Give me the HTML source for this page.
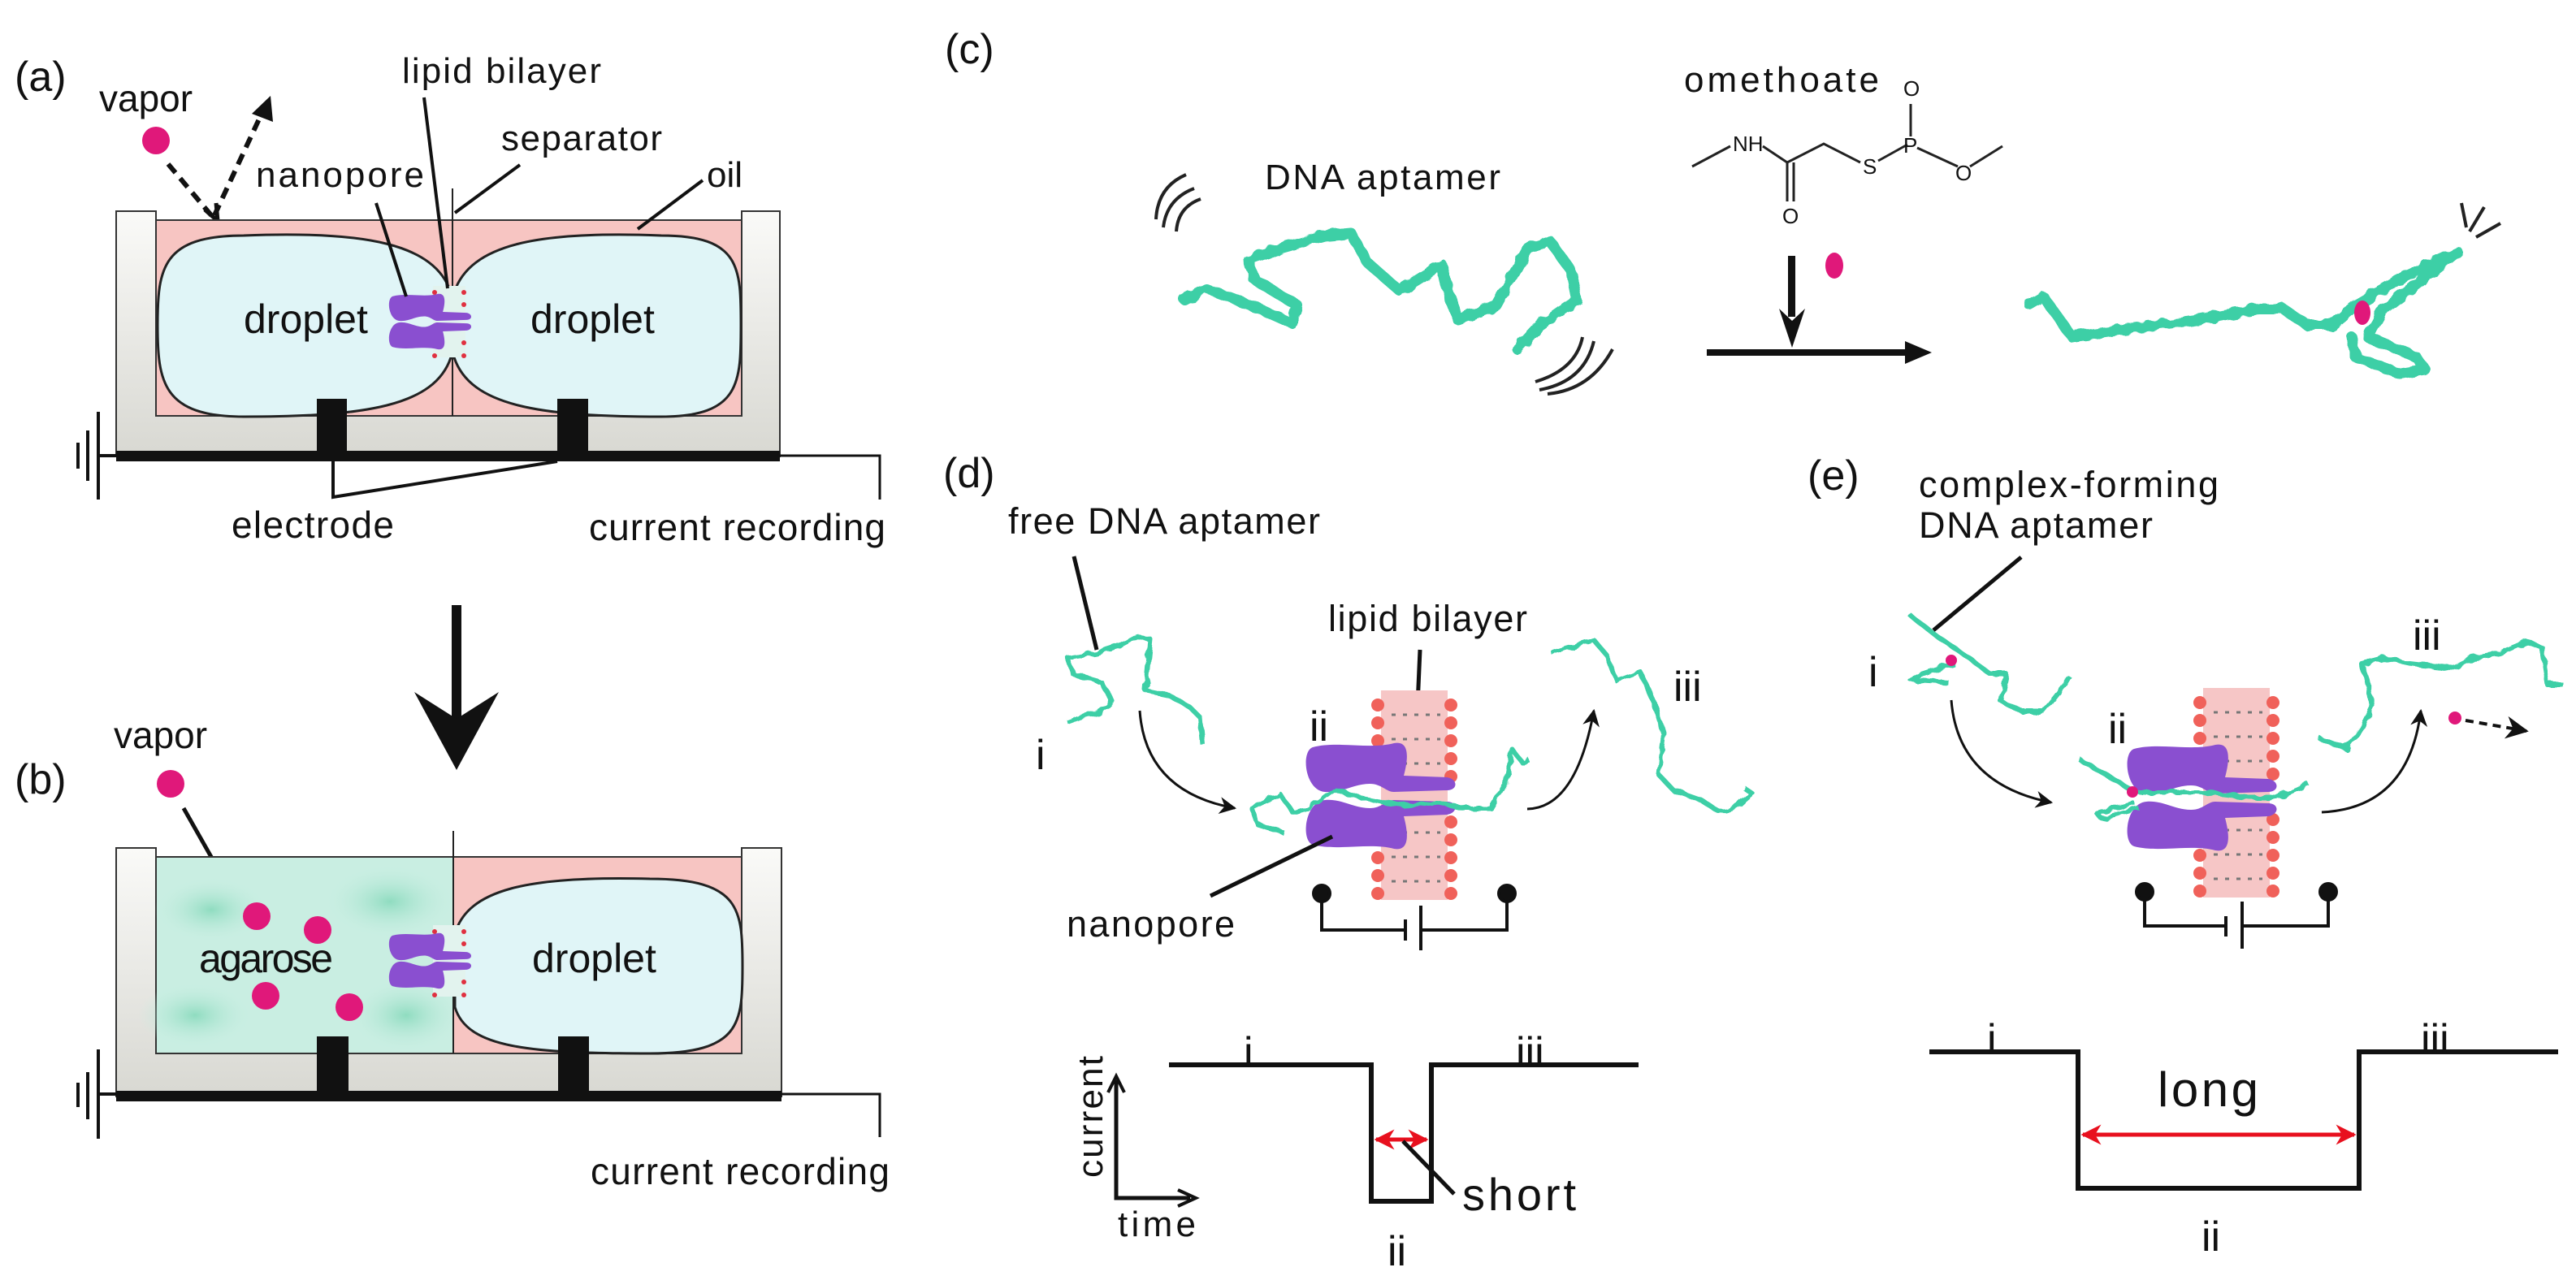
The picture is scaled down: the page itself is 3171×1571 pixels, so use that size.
<!DOCTYPE html>
<html><head><meta charset="utf-8"><style>html,body{margin:0;padding:0;background:#fff}svg{display:block}</style></head><body>
<svg width="3171" height="1571" viewBox="0 0 3171 1571" xmlns="http://www.w3.org/2000/svg" font-family="Liberation Sans, sans-serif" fill="#111">
<defs>
<filter id="wig" x="-10%" y="-10%" width="120%" height="120%">
<feTurbulence type="fractalNoise" baseFrequency="0.09" numOctaves="1" seed="3"/>
<feDisplacementMap in="SourceGraphic" scale="9"/>
</filter>
<linearGradient id="wall" x1="0" y1="0" x2="0" y2="1"><stop offset="0" stop-color="#fafaf8"/><stop offset="1" stop-color="#d8d8d2"/></linearGradient>
<radialGradient id="ag1"><stop offset="0" stop-color="#8fdcc0"/><stop offset="1" stop-color="#c8eee2" stop-opacity="0"/></radialGradient>
<marker id="ah" viewBox="0 0 10 10" refX="9" refY="5" markerWidth="7" markerHeight="7" orient="auto"><path d="M0,0 L10,5 L0,10 L3,5 Z" fill="#111"/></marker>
<marker id="rh" viewBox="0 0 10 10" refX="9" refY="5" markerWidth="5" markerHeight="5" orient="auto-start-reverse"><path d="M0,0 L10,5 L0,10 L3,5 Z" fill="#e8101e"/></marker>
<g id="poreU"><path d="M10,5 C40,-3 80,8 110,0 C132,-4 126,25 122,40 L175,42 C189,44 189,58 175,58 L110,60 C100,60 95,50 80,50 C60,50 45,62 25,60 C0,58 -5,10 10,5 Z" fill="#8a4fd0"/></g>
<g id="bil">
<rect x="12" y="0" width="82" height="258" fill="#f6c6c6"/>
<g fill="#f0615a">
<circle cx="8" cy="18" r="8"/><circle cx="8" cy="40" r="8"/><circle cx="8" cy="62" r="8"/><circle cx="8" cy="84" r="8"/><circle cx="8" cy="106" r="8"/>
<circle cx="8" cy="162" r="8"/><circle cx="8" cy="184" r="8"/><circle cx="8" cy="206" r="8"/><circle cx="8" cy="228" r="8"/><circle cx="8" cy="250" r="8"/>
<circle cx="98" cy="18" r="8"/><circle cx="98" cy="40" r="8"/><circle cx="98" cy="62" r="8"/><circle cx="98" cy="84" r="8"/><circle cx="98" cy="106" r="8"/>
<circle cx="98" cy="162" r="8"/><circle cx="98" cy="184" r="8"/><circle cx="98" cy="206" r="8"/><circle cx="98" cy="228" r="8"/><circle cx="98" cy="250" r="8"/>
</g>
<g stroke="#777" stroke-width="3" stroke-dasharray="5 9"><line x1="25" y1="30" x2="85" y2="30"/><line x1="25" y1="60" x2="85" y2="60"/><line x1="25" y1="90" x2="85" y2="90"/><line x1="25" y1="175" x2="85" y2="175"/><line x1="25" y1="205" x2="85" y2="205"/><line x1="25" y1="235" x2="85" y2="235"/></g>
</g>
<g id="smallpore">
<rect x="55" y="-8" width="40" height="88" fill="#e2f3ee"/>
<g fill="#e03040"><circle cx="57" cy="0" r="3"/><circle cx="93" cy="0" r="3"/><circle cx="57" cy="15" r="3"/><circle cx="93" cy="15" r="3"/><circle cx="57" cy="62" r="3"/><circle cx="93" cy="62" r="3"/><circle cx="57" cy="78" r="3"/><circle cx="93" cy="78" r="3"/></g>
<use href="#poreU" transform="translate(0,2) scale(0.55,0.55)"/>
<use href="#poreU" transform="translate(0,70) scale(0.55,-0.55)"/>
</g>
</defs>

<!-- ================= (a) ================= -->
<text x="18" y="112" font-size="52">(a)</text>
<text x="122" y="137" font-size="46">vapor</text>
<text x="495" y="102" font-size="44" textLength="245">lipid bilayer</text>
<text x="617" y="185" font-size="44" textLength="198">separator</text>
<text x="315" y="230" font-size="44" textLength="207">nanopore</text>
<text x="870" y="230" font-size="44">oil</text>
<circle cx="192" cy="173" r="17" fill="#e0187a"/>
<path d="M207,202 L260,265" stroke="#111" stroke-width="6" stroke-dasharray="14 9" fill="none"/>
<path d="M252,258 L268,272 L266,250" fill="none" stroke="#111" stroke-width="5"/>
<path d="M264,265 L322,140" stroke="#111" stroke-width="6" stroke-dasharray="14 9" fill="none"/>
<path d="M310,140 L333,118 L336,150 Z" fill="#111"/>
<path d="M143,260 L192,260 L192,512 L913,512 L913,260 L960,260 L960,562 L143,562 Z" fill="url(#wall)" stroke="#333" stroke-width="2"/>
<rect x="192" y="271" width="721" height="241" fill="#f7c5c2" stroke="#333" stroke-width="2"/>
<path d="M300,290 C450,284 535,300 555,360 L555,440 C535,500 450,513 300,513 C200,513 194,470 194,400 C194,330 200,290 300,290 Z" fill="#e0f5f7" stroke="#222" stroke-width="3"/>
<path d="M814,290 C664,284 579,300 559,360 L559,440 C579,500 664,513 814,513 C912,513 912,470 912,400 C912,330 912,290 814,290 Z" fill="#e0f5f7" stroke="#222" stroke-width="3"/>
<line x1="557" y1="232" x2="557" y2="512" stroke="#222" stroke-width="2"/>
<use href="#smallpore" transform="translate(478,360)"/>
<text x="300" y="410" font-size="50">droplet</text>
<text x="653" y="410" font-size="50">droplet</text>
<g stroke="#111" stroke-width="4">
<line x1="522" y1="120" x2="551" y2="355"/>
<line x1="560" y1="262" x2="640" y2="203"/>
<line x1="463" y1="250" x2="500" y2="365"/>
<line x1="785" y1="282" x2="865" y2="222"/>
</g>
<rect x="143" y="555" width="817" height="13" fill="#111"/>
<rect x="390" y="491" width="37" height="77" fill="#111"/>
<rect x="686" y="491" width="38" height="77" fill="#111"/>
<polyline points="960,561 1083,561 1083,615" fill="none" stroke="#111" stroke-width="3"/>
<g stroke="#111" stroke-width="4"><line x1="121" y1="507" x2="121" y2="615"/><line x1="121" y1="561" x2="143" y2="561"/><line x1="108" y1="530" x2="108" y2="592"/><line x1="96" y1="545" x2="96" y2="577"/></g>
<polyline points="410,568 410,612 686,568" fill="none" stroke="#111" stroke-width="4"/>
<text x="285" y="662" font-size="46" textLength="200">electrode</text>
<text x="725" y="665" font-size="46" textLength="365">current recording</text>
<rect x="556" y="745" width="12" height="140" fill="#111"/>
<path d="M510,852 L562,885 L614,852 L562,948 Z" fill="#111"/>

<!-- ================= (b) ================= -->
<text x="18" y="977" font-size="52">(b)</text>
<text x="140" y="921" font-size="46">vapor</text>
<circle cx="210" cy="965" r="17" fill="#e0187a"/>
<line x1="226" y1="995" x2="277" y2="1085" stroke="#111" stroke-width="5"/>
<path d="M262,1080 L285,1102 L286,1070 Z" fill="#111"/>
<path d="M143,1044 L192,1044 L192,1297 L913,1297 L913,1044 L962,1044 L962,1350 L143,1350 Z" fill="url(#wall)" stroke="#333" stroke-width="2"/>
<rect x="192" y="1055" width="366" height="242" fill="#c9eee2" stroke="#333" stroke-width="2"/>
<g>
<ellipse cx="260" cy="1120" rx="70" ry="40" fill="url(#ag1)"/>
<ellipse cx="480" cy="1110" rx="80" ry="45" fill="url(#ag1)"/>
<ellipse cx="240" cy="1250" rx="70" ry="40" fill="url(#ag1)"/>
<ellipse cx="500" cy="1250" rx="70" ry="45" fill="url(#ag1)"/>
</g>
<rect x="558" y="1055" width="355" height="242" fill="#f7c5c2" stroke="#333" stroke-width="2"/>
<path d="M800,1082 C650,1078 575,1095 560,1150 L560,1240 C575,1290 650,1297 800,1297 C912,1297 914,1260 914,1190 C914,1120 912,1082 800,1082 Z" fill="#e0f5f7" stroke="#222" stroke-width="3"/>
<line x1="558" y1="1023" x2="558" y2="1297" stroke="#222" stroke-width="2"/>
<use href="#smallpore" transform="translate(478,1147)"/>
<circle cx="316" cy="1128" r="17" fill="#e0187a"/><circle cx="391" cy="1145" r="17" fill="#e0187a"/><circle cx="327" cy="1226" r="17" fill="#e0187a"/><circle cx="430" cy="1240" r="17" fill="#e0187a"/>
<text x="245" y="1197" font-size="50" textLength="165">agarose</text>
<text x="655" y="1197" font-size="50">droplet</text>
<rect x="143" y="1343" width="819" height="13" fill="#111"/>
<rect x="390" y="1276" width="39" height="80" fill="#111"/>
<rect x="687" y="1276" width="38" height="80" fill="#111"/>
<polyline points="962,1347 1083,1347 1083,1400" fill="none" stroke="#111" stroke-width="3"/>
<g stroke="#111" stroke-width="4"><line x1="121" y1="1292" x2="121" y2="1402"/><line x1="121" y1="1347" x2="143" y2="1347"/><line x1="108" y1="1320" x2="108" y2="1378"/><line x1="96" y1="1333" x2="96" y2="1363"/></g>
<text x="727" y="1458" font-size="46" textLength="368">current recording</text>

<!-- ================= (c) ================= -->
<text x="1163" y="78" font-size="52">(c)</text>
<text x="2073" y="113" font-size="44" textLength="240">omethoate</text>
<text x="1557" y="233" font-size="44" textLength="290">DNA aptamer</text>
<g stroke="#222" stroke-width="3" fill="none">
<polyline points="2083,205 2130,180"/>
<polyline points="2170,180 2200,200 2245,177 2290,200"/>
<polyline points="2312,198 2348,178"/>
<line x1="2352" y1="128" x2="2352" y2="168"/>
<polyline points="2360,182 2410,205"/>
<polyline points="2425,205 2465,180"/>
<line x1="2200" y1="200" x2="2200" y2="248"/>
<line x1="2208" y1="200" x2="2208" y2="248"/>
</g>
<g font-size="26"><text x="2133" y="186">NH</text><text x="2293" y="214">S</text><text x="2343" y="188">P</text><text x="2343" y="118">O</text><text x="2407" y="222">O</text><text x="2194" y="275">O</text></g>
<g stroke="#222" stroke-width="4" fill="none">
<path d="M1423,270 Q1425,230 1460,215"/><path d="M1432,280 Q1436,245 1470,232"/><path d="M1448,285 Q1450,255 1478,245"/>
<path d="M1890,470 Q1940,455 1948,415"/><path d="M1895,480 Q1950,470 1962,420"/><path d="M1905,485 Q1958,480 1985,430"/>
<line x1="3030" y1="250" x2="3036" y2="280"/><line x1="3058" y1="255" x2="3040" y2="285"/><line x1="3078" y1="275" x2="3048" y2="292"/>
</g>
<g filter="url(#wig)" stroke="#3ecfa6" stroke-width="13" fill="none" stroke-linejoin="round" stroke-linecap="round">
<polyline points="1458,369 1484,355 1550,380 1590,398 1597,376 1544,344 1537,319 1577,305 1630,290 1663,287 1683,323 1723,358 1775,326 1782,358 1795,394 1842,376 1881,305 1908,297 1934,333 1941,369 1895,401 1868,430"/>
<polyline points="2498,375 2515,365 2551,415 2620,405 2700,395 2780,380 2810,380 2840,400 2870,400 2900,375 2960,340 3025,310 3000,330 2935,380 2915,415 2975,440 2985,455 2955,460 2900,440 2895,415"/>
</g>
<ellipse cx="2908" cy="385" rx="10" ry="15" fill="#e0187a"/>
<rect x="2201" y="315" width="9" height="75" fill="#111"/>
<path d="M2190,380 L2206,428 L2222,380 L2206,395 Z" fill="#111"/>
<ellipse cx="2258" cy="327" rx="11" ry="16" fill="#e0187a"/>
<rect x="2101" y="430" width="250" height="8" fill="#111"/>
<path d="M2345,420 L2378,434 L2345,448 Z" fill="#111"/>

<!-- ================= (d) ================= -->
<text x="1161" y="600" font-size="52">(d)</text>
<text x="1241" y="657" font-size="45" textLength="384">free DNA aptamer</text>
<line x1="1322" y1="685" x2="1350" y2="800" stroke="#111" stroke-width="5"/>
<text x="1635" y="777" font-size="45" textLength="245">lipid bilayer</text>
<line x1="1748" y1="800" x2="1745" y2="868" stroke="#111" stroke-width="5"/>
<text x="1275" y="947" font-size="52">i</text>
<text x="1612" y="912" font-size="52">ii</text>
<text x="2060" y="863" font-size="52">iii</text>
<use href="#bil" transform="translate(1688,850)"/>
<use href="#poreU" transform="translate(1606,915)"/>
<use href="#poreU" transform="translate(1606,1045) scale(1,-1)"/>
<g filter="url(#wig)" stroke="#3ecfa6" stroke-width="6" fill="none" stroke-linejoin="round">
<polyline points="1314,889 1330,883 1356,876 1369,863 1356,840 1321,830 1314,810 1349,804 1381,794 1400,784 1416,787 1413,817 1410,850 1439,856 1464,870 1477,883 1480,916"/>
<polyline points="1580,1025 1548,1015 1541,995 1576,978 1592,1001 1612,995 1643,972 1675,982 1707,988 1739,992 1771,988 1803,995 1835,995 1854,962 1861,922 1874,939 1883,936"/>
<polyline points="1910,804 1962,788 1979,808 1990,838 2019,827 2036,865 2048,904 2042,954 2060,973 2094,985 2117,1000 2140,992 2157,977 2146,969"/>
</g>
<path d="M1403,875 Q1410,975 1520,995" fill="none" stroke="#111" stroke-width="3" marker-end="url(#ah)"/>
<path d="M1880,996 Q1940,995 1962,875" fill="none" stroke="#111" stroke-width="3" marker-end="url(#ah)"/>
<text x="1313" y="1153" font-size="45" textLength="207">nanopore</text>
<line x1="1490" y1="1103" x2="1640" y2="1030" stroke="#111" stroke-width="5"/>
<g stroke="#111" stroke-width="4" fill="none">
<circle cx="1627" cy="1100" r="10" fill="#111"/><circle cx="1855" cy="1100" r="10" fill="#111"/>
<polyline points="1627,1100 1627,1145 1730,1145"/><polyline points="1855,1100 1855,1145 1749,1145"/>
<line x1="1730" y1="1132" x2="1730" y2="1158"/><line x1="1749" y1="1115" x2="1749" y2="1170"/>
</g>
<polyline points="1439,1311 1688,1311 1688,1479 1762,1479 1762,1311 2017,1311" fill="none" stroke="#111" stroke-width="6"/>
<text x="1531" y="1313" font-size="52">i</text>
<text x="1866" y="1313" font-size="52">iii</text>
<text x="1708" y="1558" font-size="52">ii</text>
<line x1="1694" y1="1403" x2="1756" y2="1403" stroke="#e8101e" stroke-width="5" marker-start="url(#rh)" marker-end="url(#rh)"/>
<line x1="1727" y1="1405" x2="1790" y2="1470" stroke="#111" stroke-width="5"/>
<text x="1800" y="1490" font-size="56" textLength="140">short</text>
<polyline points="1374,1330 1374,1475 1465,1475" fill="none" stroke="#111" stroke-width="5"/>
<path d="M1364,1345 L1374,1325 L1384,1345" fill="none" stroke="#111" stroke-width="4"/>
<path d="M1450,1465 L1472,1475 L1450,1485" fill="none" stroke="#111" stroke-width="4"/>
<text transform="translate(1357,1450) rotate(-90)" font-size="44" textLength="150">current</text>
<text x="1376" y="1522" font-size="44" textLength="96">time</text>

<!-- ================= (e) ================= -->
<text x="2225" y="603" font-size="52">(e)</text>
<text x="2362" y="612" font-size="45" textLength="369">complex-forming</text>
<text x="2362" y="662" font-size="45" textLength="288">DNA aptamer</text>
<line x1="2488" y1="686" x2="2380" y2="776" stroke="#111" stroke-width="5"/>
<text x="2300" y="845" font-size="52">i</text>
<text x="2595" y="915" font-size="52">ii</text>
<text x="2970" y="800" font-size="52">iii</text>
<use href="#bil" transform="translate(2700,847)"/>
<use href="#poreU" transform="translate(2617,917)"/>
<use href="#poreU" transform="translate(2617,1047) scale(1,-1)"/>
<g filter="url(#wig)" stroke="#3ecfa6" stroke-width="6" fill="none" stroke-linejoin="round">
<polyline points="2352,758 2385,784 2424,810 2450,830 2470,830 2463,863 2489,876 2516,876 2542,843 2548,833"/>
<polyline points="2405,817 2365,830 2352,837 2398,840"/>
<polyline points="2561,936 2607,962 2627,975 2672,975 2705,975 2737,978 2770,982 2803,982 2835,968 2842,965"/>
<polyline points="2627,988 2581,1001 2587,1008 2633,995"/>
<polyline points="2855,909 2888,922 2907,896 2920,870 2914,837 2907,817 2933,810 2966,817 3018,823 3044,810 3077,804 3110,790 3129,797 3136,843 3155,843"/>
</g>
<circle cx="2402" cy="813" r="7" fill="#e0187a"/>
<circle cx="2625" cy="975" r="7" fill="#e0187a"/>
<circle cx="3022" cy="884" r="8" fill="#e0187a"/>
<line x1="3035" y1="887" x2="3110" y2="900" stroke="#111" stroke-width="4" stroke-dasharray="10 7" marker-end="url(#ah)"/>
<path d="M2402,862 Q2410,965 2525,988" fill="none" stroke="#111" stroke-width="3" marker-end="url(#ah)"/>
<path d="M2858,1000 Q2965,995 2980,875" fill="none" stroke="#111" stroke-width="3" marker-end="url(#ah)"/>
<g stroke="#111" stroke-width="4" fill="none">
<circle cx="2640" cy="1098" r="10" fill="#111"/><circle cx="2866" cy="1098" r="10" fill="#111"/>
<polyline points="2640,1098 2640,1140 2740,1140"/><polyline points="2866,1098 2866,1140 2760,1140"/>
<line x1="2740" y1="1128" x2="2740" y2="1153"/><line x1="2760" y1="1110" x2="2760" y2="1168"/>
</g>
<polyline points="2375,1295 2558,1295 2558,1463 2904,1463 2904,1295 3149,1295" fill="none" stroke="#111" stroke-width="6"/>
<text x="2446" y="1297" font-size="52">i</text>
<text x="2980" y="1297" font-size="52">iii</text>
<text x="2710" y="1540" font-size="52">ii</text>
<text x="2656" y="1362" font-size="60" textLength="124">long</text>
<line x1="2564" y1="1397" x2="2898" y2="1397" stroke="#e8101e" stroke-width="5" marker-start="url(#rh)" marker-end="url(#rh)"/>
</svg>
</body></html>
